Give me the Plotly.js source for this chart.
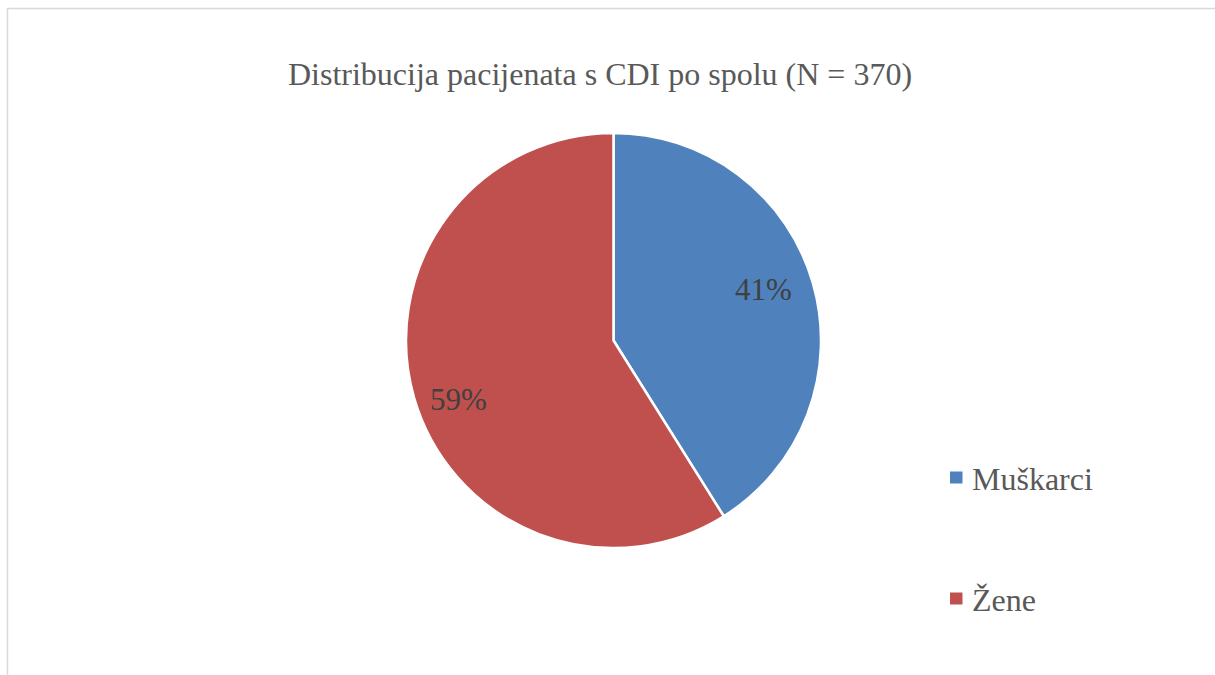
<!DOCTYPE html>
<html>
<head>
<meta charset="utf-8">
<script src="https://cdn.plot.ly/plotly-3.0.1.min.js"></script>
<style>html,body{margin:0;padding:0;background:#fff;}#chart{width:1215px;height:675px;}</style>
</head>
<body>
<div id="chart"></div>
<script>
const categories = ["Muškarci", "Žene"];
const counts = [152, 218];
const colors = ["#4F81BD", "#C0504D"];
const chartTitle = "Distribucija pacijenata s CDI po spolu (N = 370)";

const W = 1215, H = 675;
const cx = 613.5, cy = 340.5, R = 207.5;
const px = v => v / W;
const py = v => 1 - v / H;
const FONT = 'Liberation Serif, Times New Roman, serif';

const total = counts.reduce((a, b) => a + b, 0);
const annotations = [];
const shapes = [];

// percentage labels placed near slice mid-angles (best-fit style)
let cum = 0;
const labelR = [0.767, 0.798];
const labelAngleShift = [-3.3, -4.1]; // degrees
counts.forEach((c, i) => {
  const mid = ((cum + c / 2) / total * 360 + labelAngleShift[i]) * Math.PI / 180;
  cum += c;
  const r = R * labelR[i];
  annotations.push({
    x: px(cx + r * Math.sin(mid)), y: py(cy - r * Math.cos(mid) + 2),
    xref: 'paper', yref: 'paper', showarrow: false,
    text: Math.round(c / total * 100) + '%',
    font: {family: FONT, size: 31, color: '#404040'},
    xanchor: 'center', yanchor: 'middle'
  });
});

// legend
const legendY = [477.5, 598.5];
categories.forEach((name, i) => {
  shapes.push({
    type: 'rect', xref: 'paper', yref: 'paper',
    x0: px(950), x1: px(962.5), y0: py(legendY[i] - 6), y1: py(legendY[i] + 6),
    fillcolor: colors[i], line: {width: 0}
  });
  annotations.push({
    x: px(970), y: py(legendY[i] + 1), xref: 'paper', yref: 'paper', showarrow: false,
    text: name, xanchor: 'left', yanchor: 'middle',
    font: {family: FONT, size: 32, color: '#595959'}
  });
});

// chart border
shapes.push({
  type: 'rect', xref: 'paper', yref: 'paper',
  x0: px(7.5), x1: px(1230), y0: py(8.5), y1: py(700),
  line: {color: '#d9d9d9', width: 1.5}, fillcolor: 'rgba(0,0,0,0)'
});

const data = [{
  type: 'pie',
  labels: categories,
  values: counts,
  marker: {colors: colors, line: {color: '#ffffff', width: 2.5}},
  sort: false,
  direction: 'clockwise',
  rotation: 0,
  textinfo: 'none',
  hoverinfo: 'label+percent',
  showlegend: false,
  domain: {x: [px(cx - R), px(cx + R)], y: [py(cy + R), py(cy - R)]}
}];

const layout = {
  width: W, height: H,
  margin: {l: 0, r: 0, t: 0, b: 0},
  paper_bgcolor: '#ffffff',
  title: {
    text: chartTitle,
    x: px(600), xanchor: 'center',
    y: py(74), yanchor: 'middle', yref: 'paper',
    font: {family: FONT, size: 32, color: '#595959'}
  },
  showlegend: false,
  shapes: shapes,
  annotations: annotations
};

Plotly.newPlot('chart', data, layout, {displayModeBar: false, staticPlot: true});
</script>
</body>
</html>
